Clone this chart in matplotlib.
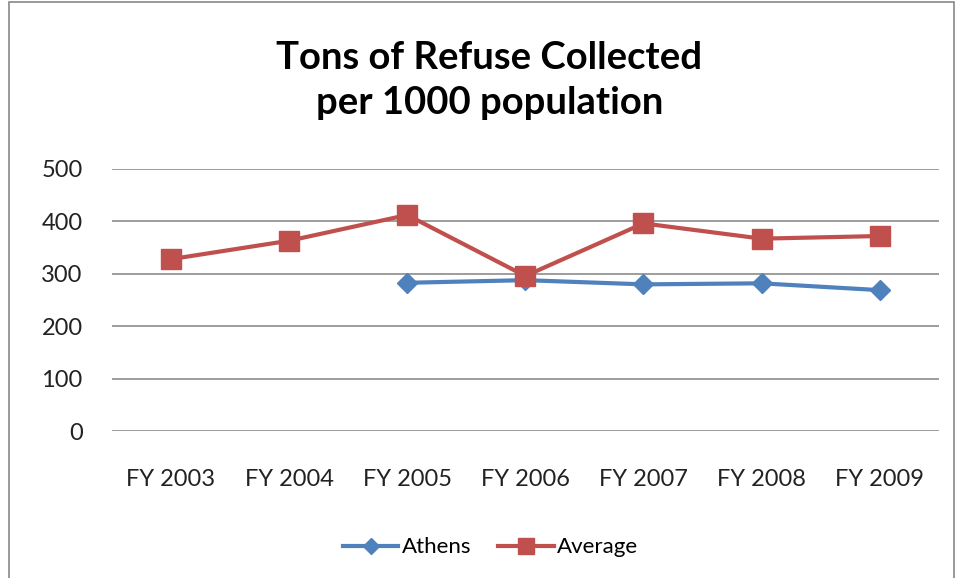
import numpy as np
import matplotlib.pyplot as plt
from matplotlib.patches import Rectangle

# Daten
years = ['FY 2003', 'FY 2004', 'FY 2005', 'FY 2006', 'FY 2007', 'FY 2008', 'FY 2009']
athens = [np.nan, np.nan, 283, 288, 280, 282, 269]
average = [328, 363, 412, 296, 396, 367, 372]
y_ticks = [0, 100, 200, 300, 400, 500]

plt.rcParams['font.family'] = ['Lato', 'DejaVu Sans']

fig = plt.figure(figsize=(9.56, 5.78), dpi=100)
ax = fig.add_axes([0.117, 0.2535, 0.865, 0.4545])

x = np.arange(len(years))
ax.plot(x, athens, color='#4F81BD', lw=3, marker='D', markersize=10, label='Athens')
ax.plot(x, average, color='#C0504D', lw=3, marker='s', markersize=14, label='Average')

ax.set_xlim(-0.5, len(years) - 0.5)
ax.set_ylim(0, 500)
ax.set_yticks(y_ticks)
ax.set_xticks(x)
ax.set_xticklabels(years)
ax.tick_params(axis='both', length=0, labelsize=17, colors='#222222')
ax.tick_params(axis='x', pad=27)
ax.tick_params(axis='y', pad=21)
ax.grid(axis='y', color='#8c8c8c', lw=1.2)
ax.set_axisbelow(True)
for s in ax.spines.values():
    s.set_visible(False)

fig.text(0.512, 0.861, 'Tons of Refuse Collected\nper 1000 population', ha='center', va='center',
         fontsize=27.5, fontweight='bold', linespacing=1.4)

fig.legend(loc='center', bbox_to_anchor=(0.513, 0.053), ncol=2, frameon=False, fontsize=16,
           handlelength=2.5, columnspacing=1.2, handletextpad=0.15, markerscale=0.8)

fig.patches.append(Rectangle((0.009, -0.01), 0.989, 1.006, transform=fig.transFigure,
                             fill=False, edgecolor='#888888', lw=1.2))

fig.savefig('out.png', dpi=100)
